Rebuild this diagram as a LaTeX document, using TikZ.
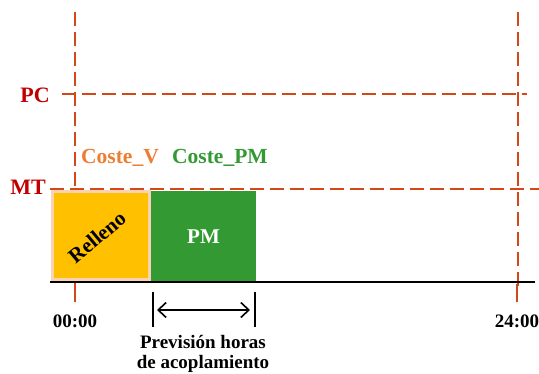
\documentclass[tikz,border=0pt]{standalone}
\usepackage{fontspec}
\setmainfont{Liberation Serif}
\usetikzlibrary{arrows.meta}
\definecolor{guide}{RGB}{212,72,24}
\definecolor{level}{RGB}{192,0,0}
\definecolor{costv}{RGB}{237,125,49}
\definecolor{costpm}{RGB}{51,153,51}
\definecolor{fillbox}{RGB}{255,192,0}
\definecolor{fillrim}{RGB}{250,210,180}
\tikzset{
  guideline/.style={draw=guide, line width=2pt, dash pattern=on 14pt off 6pt},
  tickline/.style={draw=guide, line width=2pt},
  levellabel/.style={text=level, font=\bfseries\fontsize{22}{24}\selectfont, anchor=east, inner sep=0pt},
  costlabel/.style={font=\bfseries\fontsize{21.5}{24}\selectfont, anchor=west, inner sep=0pt},
  timelabel/.style={font=\bfseries\fontsize{19}{22}\selectfont, inner sep=0pt},
  blocklabel/.style={font=\bfseries\fontsize{21}{24}\selectfont, inner sep=0pt},
  barb/.tip={Straight Barb[length=8pt,width=15pt,line width=1.6pt]},
}
\begin{document}
\begin{tikzpicture}[x=1pt, y=-1pt]
  \useasboundingbox (0,0) rectangle (539,374);

  % guide lines
  \draw[guideline] (75,12) -- (75,292);
  \draw[guideline] (518,12) -- (518,292);
  \draw[tickline] (75,284) -- (75,302);
  \draw[tickline] (517,284) -- (517,302);
  \draw[guideline] (62,94) -- (527,94);
  \draw[guideline] (50,189) -- (539,189);

  % time axis
  \draw[line width=1.6pt] (50,282) -- (535,282);

  % bars for the time slots
  \draw[fill=fillbox, draw=fillrim, line width=3pt] (52,192) rectangle (149.5,279.5);
  \fill[costpm] (151,191) rectangle (256,281);
  \node[blocklabel, rotate=40] (relleno) at (97,237) {Relleno};
  \node[blocklabel, text=white] (pm) at (203.5,237) {PM};

  % level labels
  \node[levellabel] (pc) at (50,95) {PC};
  \node[levellabel] (mt) at (46,187) {MT};

  % cost labels
  \node[costlabel, text=costv] (cv) at (81,158) {Coste\_V};
  \node[costlabel, text=costpm] (cpm) at (172,158) {Coste\_PM};

  % time labels
  \node[timelabel] (t0) at (75,321) {00:00};
  \node[timelabel] (t24) at (517,321) {24:00};

  % coupling hours span
  \coordinate (la) at (153,292);
  \coordinate (lb) at (153,327);
  \coordinate (ra) at (255,292);
  \coordinate (rb) at (255,327);
  \draw[line width=1.6pt] (la) -- (lb);
  \draw[line width=1.6pt] (ra) -- (rb);
  \coordinate (al) at (157,310);
  \coordinate (ar) at (250,310);
  \draw[line width=1.5pt, barb-barb] (al) -- (ar);
  \node[timelabel, align=center] (span) at (203,354) {Previsión horas\\[-2pt]de acoplamiento};
\end{tikzpicture}
\end{document}
